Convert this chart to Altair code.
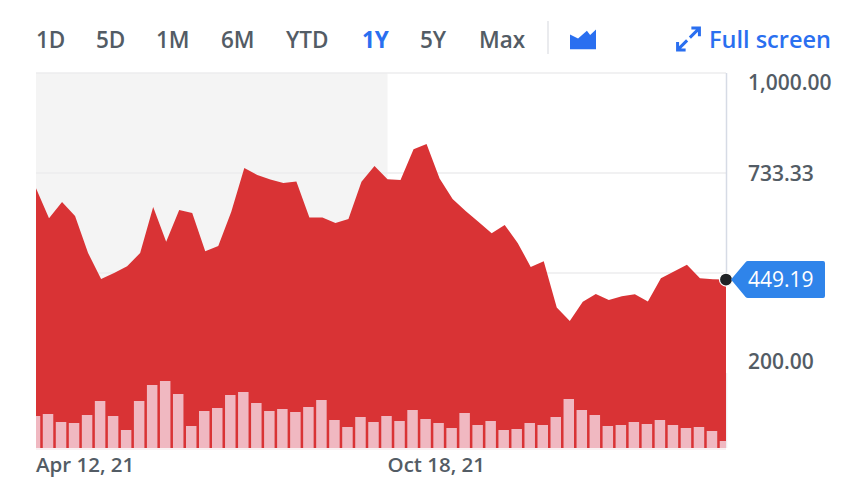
import altair as alt
import pandas as pd

FONT = "Open Sans"
RED = "#d93335"
BLUE = "#2a6ff0"
GREY = "#535c65"

closes = [693, 613, 656, 619, 520, 451, 467, 485, 520, 643, 550, 635, 627, 525, 539, 630, 747, 728,
          716, 707, 711, 615, 615, 600, 611, 710, 752, 717, 715, 797, 811, 719, 664, 632, 603, 573,
          595, 547, 483, 498, 375, 339, 390, 411, 395, 405, 410, 391, 453, 471, 489, 453, 450, 449.19]
volumes = [32, 34, 26, 25, 33, 47, 32, 18, 47, 63, 67, 54, 22, 37, 40, 53, 56, 45, 37, 39, 36, 41, 48,
           28, 21, 31, 26, 32, 27, 38, 29, 25, 20, 35, 23, 27, 18, 19, 25, 23, 31, 49, 38, 33, 22, 23,
           26, 24, 28, 23, 20, 21, 17, 7]
dates = pd.date_range("2021-04-12", periods=len(closes), freq="7D").strftime("%Y-%m-%d").tolist()
x_ticks = ["2021-04-12", "2021-10-18"]
x_tick_labels = ["Apr 12, 21", "Oct 18, 21"]
grid_values = [1000, 733.33, 466.67]
last_close = 449.19

df = pd.DataFrame({"date": dates, "close": closes, "volume": volumes})
xs = alt.Scale(type="utc", domain=[dates[0], dates[-1]], padding=0)
ys = alt.Scale(domain=[0, 1000])
vs = alt.Scale(domain=[0, 375])
one = alt.Data(values=[{"a": 1}])


def X():
    return alt.X("date:T", scale=xs, title=None, axis=None)


shade = alt.Chart(pd.DataFrame({"date": [x_ticks[0]], "end": [x_ticks[1]]})).mark_rect(color="#f4f4f4").encode(
    x=X(), x2="end:T", y=alt.value(0), y2=alt.value(375))

grid = alt.Chart(pd.DataFrame({"v": grid_values})).mark_rule(color="#ececee", strokeWidth=1.5).encode(
    y=alt.Y("v:Q", scale=ys, axis=None))

area = alt.Chart(df).mark_area(color=RED, clip=False).encode(
    x=X(), y=alt.Y("close:Q", scale=ys, axis=None), y2=alt.value(376))

bars = alt.Chart(df).mark_bar(color="#f0b8c1", width=10.5, xOffset=-1, clip=True).encode(
    x=X(), y=alt.Y("volume:Q", scale=vs, axis=None), y2=alt.value(375))

baseline = alt.Chart(one).mark_rule(color="#f2e3e6", strokeWidth=1).encode(
    x=alt.value(0), x2=alt.value(690), y=alt.value(376))

axis_frame = alt.Chart(pd.DataFrame({"from": [466.67, 0], "to": [1000, 200], "c": ["#d6dbe5", "#efeff2"]})).mark_rule(
    strokeWidth=1.5).encode(
    x=alt.value(690.5), y=alt.Y("from:Q", scale=ys, axis=None), y2="to:Q", color=alt.Color("c:N", scale=None))

x_labels = alt.Chart(pd.DataFrame({"date": x_ticks, "t": x_tick_labels})).mark_text(
    color=GREY, font=FONT, fontSize=20.5, fontWeight=600, align="left", baseline="middle").encode(
    x=X(), y=alt.value(393), text="t:N")

dot = alt.Chart(pd.DataFrame({"date": [dates[-1]], "close": [last_close]})).mark_point(
    filled=True, color="#202225", size=170, opacity=1, stroke="#ffffff", strokeWidth=1.2).encode(
    x=X(), y=alt.Y("close:Q", scale=ys, axis=None))

TAG = ("M-1 0 L-0.69 -0.37 Q-0.67 -0.394 -0.64 -0.394 L0.96 -0.394 Q1 -0.394 1 -0.35 L1 0.35 "
       "Q1 0.394 0.96 0.394 L-0.64 0.394 Q-0.67 0.394 -0.69 0.37 Z")
tag = alt.Chart(pd.DataFrame({"close": [last_close]})).mark_point(
    shape=TAG, filled=True, color="#2f84ea", size=94 ** 2, opacity=1).encode(
    x=alt.value(742), y=alt.Y("close:Q", scale=ys, axis=None))
tag_text = alt.Chart(pd.DataFrame({"close": [last_close], "t": ["449.19"]})).mark_text(
    color="white", font=FONT, fontSize=21, align="left", baseline="middle", dy=1).encode(
    x=alt.value(712), y=alt.Y("close:Q", scale=ys, axis=None), text="t:N")


def price_label(value, text, dy):
    return alt.Chart(pd.DataFrame({"v": [value], "t": [text]})).mark_text(
        color=GREY, font=FONT, fontSize=21, align="left", baseline="middle", dy=dy, fontWeight=600).encode(
        x=alt.value(712), y=alt.Y("v:Q", scale=ys, axis=None), text="t:N")


def top_text(text, x, color=GREY, weight=600, size=22.5):
    return alt.Chart(pd.DataFrame({"t": [text]})).mark_text(
        color=color, font=FONT, fontSize=size, fontWeight=weight, align="left", baseline="middle").encode(
        x=alt.value(x), y=alt.value(-32), text="t:N")


toolbar = [top_text("1D", 0), top_text("5D", 60), top_text("1M", 120), top_text("6M", 185),
           top_text("YTD", 250), top_text("1Y", 326, BLUE, 700), top_text("5Y", 384), top_text("Max", 443),
           top_text("Full screen", 673, BLUE, 600, 23.5)]

divider = alt.Chart(one).mark_rule(color="#e3e5e8", strokeWidth=1.5).encode(
    x=alt.value(512), y=alt.value(-52), y2=alt.value(-19))

ICON = "M-1 -0.42 L-0.38 -0.12 L0.3 -0.72 L0.55 -0.38 L1 -0.8 L1 0.72 L-1 0.72 Z"
icon = alt.Chart(one).mark_point(shape=ICON, filled=True, color=BLUE, size=26 ** 2, opacity=1).encode(
    x=alt.value(547), y=alt.value(-33))
EXPAND = ("M0.12 -0.12 L0.95 -0.95 M0.25 -0.95 L0.95 -0.95 L0.95 -0.25 "
          "M-0.12 0.12 L-0.95 0.95 M-0.25 0.95 L-0.95 0.95 L-0.95 0.25")
expand = alt.Chart(one).mark_point(shape=EXPAND, filled=False, color=BLUE, size=23 ** 2, strokeWidth=3, opacity=1).encode(
    x=alt.value(652.5), y=alt.value(-34))

chart = alt.layer(
    shade, grid, axis_frame, area, bars, baseline, x_labels, dot, tag, tag_text,
    price_label(1000, "1,000.00", 11), price_label(733.33, "733.33", 1.5), price_label(200, "200.00", -10),
    *toolbar, divider, icon, expand,
).resolve_scale(y="independent").properties(
    width=690, height=375, background="white",
    padding={"left": 28, "top": 65, "right": 116, "bottom": 31},
    autosize=alt.AutoSizeParams(type="none"),
).configure_view(stroke=None)

chart.save("out.html", embed_options={"renderer": "svg", "actions": False})
